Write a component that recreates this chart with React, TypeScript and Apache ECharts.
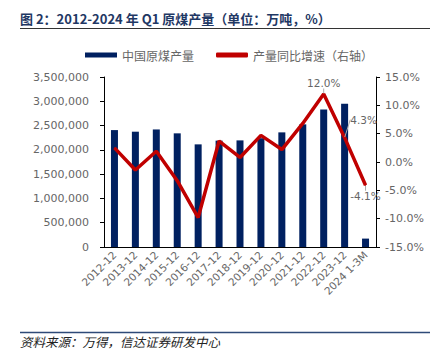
import React, { useEffect, useRef } from "react";
import * as echarts from "echarts";

const categories = [
  "2012-12", "2013-12", "2014-12", "2015-12", "2016-12", "2017-12", "2018-12",
  "2019-12", "2020-12", "2021-12", "2022-12", "2023-12", "2024 1-3M",
];
const production = [
  2407000, 2374000, 2420000, 2340000, 2113000, 2190000, 2195000,
  2240000, 2360000, 2525000, 2830000, 2950000, 173000,
];
const growth = [2.5, -1.4, 1.9, -3.3, -9.8, 3.7, 0.8, 4.7, 2.2, 6.8, 12.0, 4.3, -4.1];
const labelledIndexes = [10, 11, 12];

const leftTicks = { min: 0, max: 3500000, interval: 500000 };
const rightTicks = { min: -15, max: 15, interval: 5 };

const BAR = "#002060";
const RED = "#c00000";
const GRAY = "#666666";

export default function App() {
  const ref = useRef<HTMLDivElement>(null);
  useEffect(() => {
    const chart = echarts.init(ref.current!, null, { renderer: "svg" });
    const lineData = growth.map((v, i) => {
      if (labelledIndexes.indexOf(i) < 0) return v;
      let position: any = "top";
      if (i === 12) position = "bottom";
      return { value: v, label: { show: true, position } };
    });
    chart.setOption({
      animation: false,
      textStyle: { fontFamily: "Liberation Sans, Noto Sans CJK SC, sans-serif" },
      graphic: [
        {
          type: "text",
          left: 20,
          top: 12,
          style: {
            text: "图 2：2012-2024 年 Q1 原煤产量（单位：万吨，%）",
            fill: "#1f3864",
            font: "bold 13px 'Noto Sans CJK SC', sans-serif",
          },
        },
        {
          type: "line",
          shape: { x1: 20, y1: 28.5, x2: 430, y2: 28.5 },
          style: { stroke: "#333333", lineWidth: 1.2 },
        },
        {
          type: "line",
          shape: { x1: 20, y1: 332.5, x2: 430, y2: 332.5 },
          style: { stroke: "#2e4a78", lineWidth: 1.6 },
        },
        {
          type: "text",
          left: 20,
          top: 335,
          style: {
            text: "资料来源：万得，信达证券研发中心",
            fill: "#222222",
            font: "italic 12.5px 'Noto Sans CJK SC', sans-serif",
          },
        },
      ],
      legend: {
        top: 44,
        left: 80,
        itemGap: 22,
        itemWidth: 32,
        itemHeight: 5,
        textStyle: { color: GRAY, fontSize: 12, fontFamily: "Noto Sans CJK SC" },
        data: [
          { name: "中国原煤产量", icon: "rect" },
          { name: "产量同比增速（右轴）", icon: "roundRect" },
        ],
      },
      grid: { left: 104, right: 64, top: 77, bottom: 107, containLabel: false },
      xAxis: {
        type: "category",
        data: categories,
        axisTick: { show: false },
        axisLine: { lineStyle: { color: "#000", width: 1 } },
        axisLabel: {
          interval: 0,
          rotate: 45,
          color: GRAY,
          fontSize: 10.5,
          margin: 6,
          fontFamily: "DejaVu Sans",
        },
      },
      yAxis: [
        {
          type: "value",
          ...leftTicks,
          splitLine: { show: false },
          axisLine: { show: true, lineStyle: { color: "#000" } },
          axisTick: { show: true, length: 4, lineStyle: { color: "#000" } },
          axisLabel: {
            color: GRAY,
            fontSize: 11,
            margin: 15,
            fontFamily: "DejaVu Sans",
            formatter: (v: number) => v.toLocaleString("en-US"),
          },
        },
        {
          type: "value",
          ...rightTicks,
          splitLine: { show: false },
          axisLine: { show: true, lineStyle: { color: "#000" } },
          axisTick: { show: true, length: 4, lineStyle: { color: "#000" } },
          axisLabel: {
            color: GRAY,
            fontSize: 11,
            margin: 9,
            fontFamily: "DejaVu Sans",
            formatter: (v: number) => v.toFixed(1) + "%",
          },
        },
      ],
      series: [
        {
          name: "中国原煤产量",
          type: "bar",
          yAxisIndex: 0,
          barWidth: 7,
          itemStyle: { color: BAR },
          data: production,
        },
        {
          name: "产量同比增速（右轴）",
          type: "line",
          yAxisIndex: 1,
          symbol: "circle",
          symbolSize: 1,
          itemStyle: { color: RED },
          lineStyle: { color: RED, width: 3.5 },
          label: {
            show: false,
            color: GRAY,
            fontSize: 10.5,
            fontFamily: "DejaVu Sans",
            formatter: (p: any) => p.value.toFixed(1) + "%",
          },
          labelLine: { show: true, lineStyle: { color: "#aaaaaa", width: 1 } },
          labelLayout: (p: any) => (p.dataIndex === 11 ? { dx: 19, dy: -7 } : {}),
          data: lineData,
        },
      ],
    });
    return () => chart.dispose();
  }, []);
  return (
    <div
      ref={ref}
      style={{ position: "fixed", left: 0, top: 0, width: 440, height: 354, background: "#fff" }}
    />
  );
}
